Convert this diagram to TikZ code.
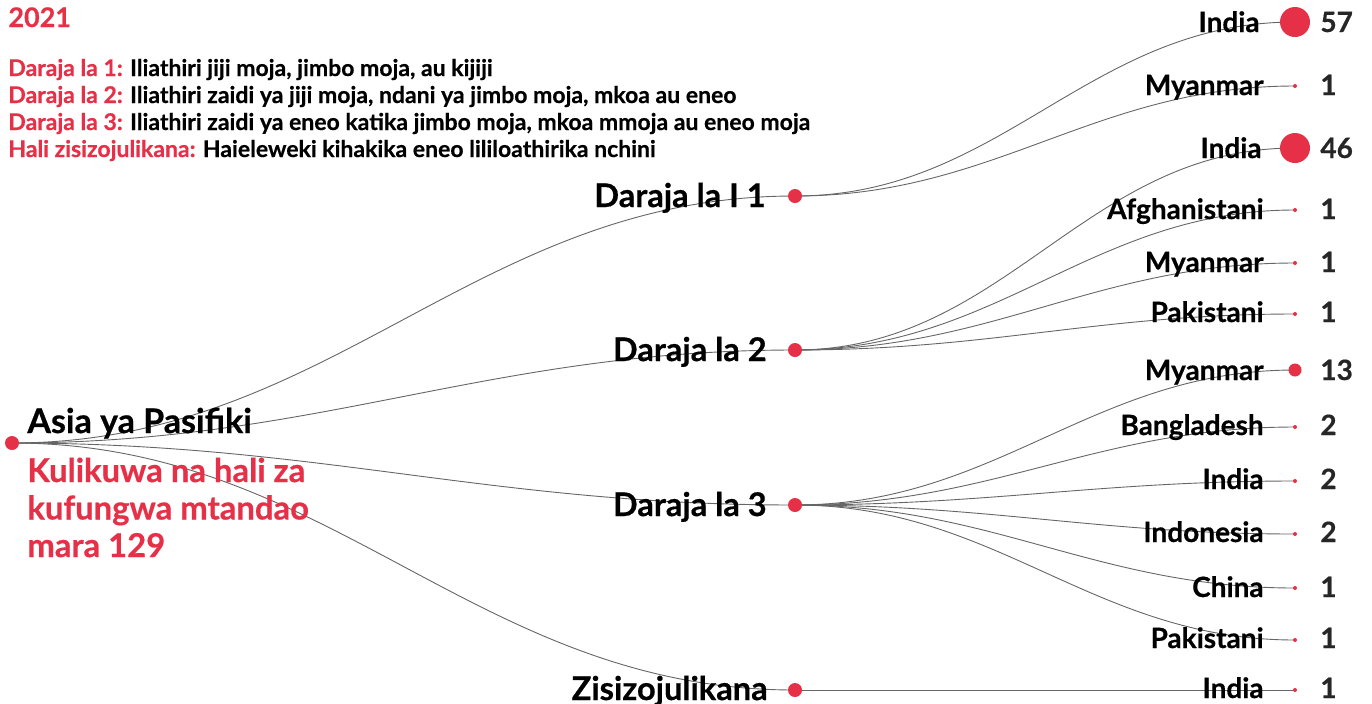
\documentclass[tikz,border=0pt]{standalone}
\usepackage{fontspec}
\setmainfont{Lato}[BoldFeatures={FakeBold=0.5}]
\usetikzlibrary{backgrounds}
\definecolor{shutred}{HTML}{E63047}
\tikzset{
  reddot/.style={circle,fill=shutred,inner sep=0pt,minimum size=#1},
  link/.style={draw=black!60,line width=0.45pt},
  titletext/.style={anchor=base west,inner sep=0pt,text=shutred,font=\bfseries\fontsize{13.5}{16}\selectfont},
  legendtext/.style={anchor=base west,inner sep=0pt,font=\bfseries\fontsize{11.5}{13}\selectfont},
  rootlabel/.style={anchor=base west,inner sep=0pt,font=\bfseries\fontsize{17}{20}\selectfont},
  notelabel/.style={anchor=base west,inner sep=0pt,align=left,text=shutred,font=\bfseries\fontsize{16.4}{18.75}\selectfont},
  midlabel/.style={anchor=base east,inner sep=0pt,font=\bfseries\fontsize{16.3}{18}\selectfont},
  leaflabel/.style={anchor=base east,inner sep=0pt,font=\bfseries\fontsize{14}{16}\selectfont},
  countlabel/.style={anchor=base west,inner sep=0pt,text=black!85,font=\bfseries\fontsize{14}{16}\selectfont}
}
\begin{document}
\begin{tikzpicture}[x=0.5pt,y=-0.5pt] %Mti wa kufungwa mtandao Asia ya Pasifiki
    \useasboundingbox (0,0) rectangle (1372,703);

    \node[titletext] (year) at (8,27) {2021};
    \node[legendtext] (leg1) at (8,76) {\textcolor{shutred}{Daraja la 1:} Iliathiri jiji moja, jimbo moja, au kijiji};
    \node[legendtext] (leg2) at (8,103) {\textcolor{shutred}{Daraja la 2:} Iliathiri zaidi ya jiji moja, ndani ya jimbo moja, mkoa au eneo};
    \node[legendtext] (leg3) at (8,130) {\textcolor{shutred}{Daraja la 3:} Iliathiri zaidi ya eneo katika jimbo moja, mkoa mmoja au eneo moja};
    \node[legendtext] (leg4) at (8,157) {\textcolor{shutred}{Hali zisizojulikana:} Haieleweki kihakika eneo lililoathirika nchini};

    % mzizi
    \node[reddot=7pt] (asia) at (12,443) {};
    \node[rootlabel] (asialabel) at (27,433) {Asia ya Pasifiki};
    \node[notelabel] (note) at (27,557) {Kulikuwa na hali za\\kufungwa mtandao\\mara 129};

    % madaraja
    \node[reddot=7pt] (d1) at (795,196) {};
    \node[reddot=7pt] (d2) at (795,350) {};
    \node[reddot=7pt] (d3) at (795,505) {};
    \node[reddot=7pt] (dz) at (795,690) {};

    \node[midlabel] (d1label) at (766,207) {Daraja la I 1};
    \node[midlabel] (d2label) at (767,361) {Daraja la 2};
    \node[midlabel] (d3label) at (767,516) {Daraja la 3};
    \node[midlabel] (dzlabel) at (768,700) {Zisizojulikana};

    % nchi
    \node[reddot=15pt] (d1india) at (1295,22) {};
    \node[reddot=2pt] (d1myanmar) at (1295,86) {};

    \node[reddot=15pt] (d2india) at (1295,148) {};
    \node[reddot=2pt] (d2afghan) at (1295,210) {};
    \node[reddot=2pt] (d2myanmar) at (1295,263) {};
    \node[reddot=2pt] (d2pakistan) at (1295,314) {};

    \node[reddot=6.5pt] (d3myanmar) at (1295,370) {};
    \node[reddot=2pt] (d3bangla) at (1295,427) {};
    \node[reddot=2pt] (d3india) at (1295,481) {};
    \node[reddot=2pt] (d3indonesia) at (1295,534) {};
    \node[reddot=2pt] (d3china) at (1295,588) {};
    \node[reddot=2pt] (d3pakistan) at (1295,640) {};

    \node[reddot=2pt] (dzindia) at (1295,690) {};

    \node[leaflabel] (l1) at (1260,32) {India};
    \node[leaflabel] (l2) at (1264,95) {Myanmar};
    \node[leaflabel] (l3) at (1262,158) {India};
    \node[leaflabel] (l4) at (1264,219) {Afghanistani};
    \node[leaflabel] (l5) at (1264,272) {Myanmar};
    \node[leaflabel] (l6) at (1264,322) {Pakistani};
    \node[leaflabel] (l7) at (1264,380) {Myanmar};
    \node[leaflabel] (l8) at (1264,435) {Bangladesh};
    \node[leaflabel] (l9) at (1264,489) {India};
    \node[leaflabel] (l10) at (1264,542) {Indonesia};
    \node[leaflabel] (l11) at (1264,597) {China};
    \node[leaflabel] (l12) at (1264,648) {Pakistani};
    \node[leaflabel] (l13) at (1264,698) {India};

    \node[countlabel] (c1) at (1320,32) {57};
    \node[countlabel] (c2) at (1320,95) {1};
    \node[countlabel] (c3) at (1320,158) {46};
    \node[countlabel] (c4) at (1320,219) {1};
    \node[countlabel] (c5) at (1320,272) {1};
    \node[countlabel] (c6) at (1320,322) {1};
    \node[countlabel] (c7) at (1320,380) {13};
    \node[countlabel] (c8) at (1320,435) {2};
    \node[countlabel] (c9) at (1320,489) {2};
    \node[countlabel] (c10) at (1320,542) {2};
    \node[countlabel] (c11) at (1320,597) {1};
    \node[countlabel] (c12) at (1320,648) {1};
    \node[countlabel] (c13) at (1320,698) {1};

    \begin{scope}[on background layer]
        \draw[link] (asia.center) to[out=0,in=180] (d1.center);
        \draw[link] (asia.center) to[out=0,in=180] (d2.center);
        \draw[link] (asia.center) to[out=0,in=180] (d3.center);
        \draw[link] (asia.center) to[out=0,in=180] (dz.center);

        \draw[link] (d1.center) to[out=0,in=180] (d1india.center);
        \draw[link] (d1.center) to[out=0,in=180] (d1myanmar.center);

        \draw[link] (d2.center) to[out=0,in=180] (d2india.center);
        \draw[link] (d2.center) to[out=0,in=180] (d2afghan.center);
        \draw[link] (d2.center) to[out=0,in=180] (d2myanmar.center);
        \draw[link] (d2.center) to[out=0,in=180] (d2pakistan.center);

        \draw[link] (d3.center) to[out=0,in=180] (d3myanmar.center);
        \draw[link] (d3.center) to[out=0,in=180] (d3bangla.center);
        \draw[link] (d3.center) to[out=0,in=180] (d3india.center);
        \draw[link] (d3.center) to[out=0,in=180] (d3indonesia.center);
        \draw[link] (d3.center) to[out=0,in=180] (d3china.center);
        \draw[link] (d3.center) to[out=0,in=180] (d3pakistan.center);

        \draw[link] (dz.center) to[out=0,in=180] (dzindia.center);
    \end{scope}
\end{tikzpicture}
\end{document}
